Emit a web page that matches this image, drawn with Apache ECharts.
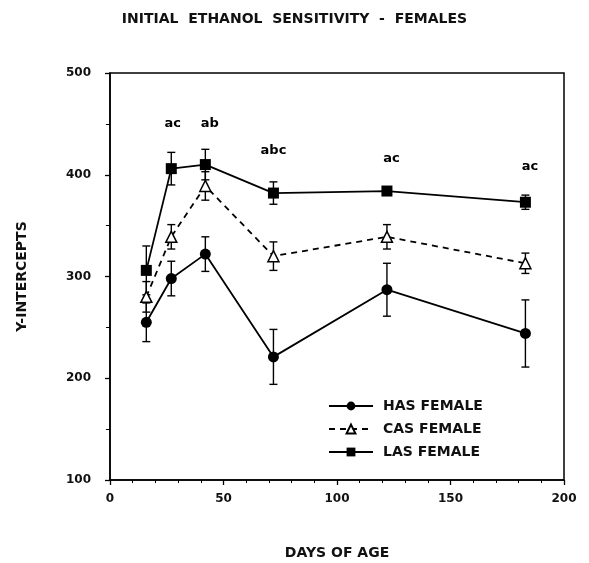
<!DOCTYPE html>
<html>
<head>
<meta charset="utf-8">
<script src="https://cdn.jsdelivr.net/npm/echarts@6/dist/echarts.min.js"></script>
<style>
  html, body { margin: 0; padding: 0; background: #fff; }
  #main { width: 589px; height: 563px; }
</style>
</head>
<body>
<div id="main"></div>
<script>
// days of age sampled
var days = [16, 27, 42, 72, 122, 183];

// Y-intercept means and error bar half-widths
var hasValues = [255, 298, 322, 221, 287, 244];
var hasErr = [19, 17, 17, 27, 26, 33];
var casValues = [280, 339, 389, 320, 339, 313];
var casErr = [15, 12, 14, 14, 12, 10];
var lasValues = [306, 406, 410, 382, 384, 373];
var lasErr = [24, 16, 15, 11, 3, 7];

// significance letters above the points
var sigDays = [27.6, 44, 72, 124, 185];
var sigValues = [450, 450, 424, 416, 408];
var sigLabels = ['ac', 'ab', 'abc', 'ac', 'ac'];

var xTicks = [0, 50, 100, 150, 200];
var yTicks = [100, 200, 300, 400, 500];

var bold = 'DejaVu Sans';

function pairs(vals) {
  return days.map(function (d, i) { return [d, vals[i]]; });
}
function errData(vals, err) {
  return days.map(function (d, i) { return [d, vals[i] - err[i], vals[i] + err[i]]; });
}
function renderErr(params, api) {
  var lo = api.coord([api.value(0), api.value(1)]);
  var hi = api.coord([api.value(0), api.value(2)]);
  var w = 4;
  var st = { stroke: '#000', lineWidth: 1.4 };
  return {
    type: 'group',
    children: [
      { type: 'line', shape: { x1: lo[0], y1: lo[1], x2: hi[0], y2: hi[1] }, style: st },
      { type: 'line', shape: { x1: lo[0] - w, y1: lo[1], x2: lo[0] + w, y2: lo[1] }, style: st },
      { type: 'line', shape: { x1: hi[0] - w, y1: hi[1], x2: hi[0] + w, y2: hi[1] }, style: st }
    ]
  };
}
function errSeries(vals, err) {
  return {
    type: 'custom',
    renderItem: renderErr,
    data: errData(vals, err),
    encode: { x: 0, y: [1, 2] },
    z: 1,
    silent: true
  };
}

var chart = echarts.init(document.getElementById('main'));
chart.setOption({
  animation: false,
  backgroundColor: '#fff',
  title: {
    text: 'INITIAL  ETHANOL  SENSITIVITY  -  FEMALES',
    left: 'center',
    top: 7,
    textStyle: { fontFamily: bold, fontWeight: 'bold', fontSize: 14, color: '#111' }
  },
  legend: {
    orient: 'vertical',
    left: 323,
    top: 394,
    itemWidth: 44,
    itemHeight: 11,
    itemGap: 9,
    selectedMode: false,
    data: ['HAS FEMALE', 'CAS FEMALE', 'LAS FEMALE'],
    textStyle: { fontFamily: bold, fontWeight: 'bold', fontSize: 14, color: '#111', padding: [0, 0, 0, 5] }
  },
  grid: {
    left: 110, right: 25, top: 73, bottom: 83,
    outerBoundsMode: 'none',
    show: true, borderColor: '#000', borderWidth: 1.5
  },
  xAxis: {
    type: 'value',
    min: xTicks[0], max: xTicks[xTicks.length - 1], interval: 50,
    name: 'DAYS OF AGE',
    nameLocation: 'middle',
    nameGap: 66,
    nameTextStyle: { fontFamily: bold, fontWeight: 'bold', fontSize: 14, color: '#111' },
    axisLine: { lineStyle: { color: '#000', width: 1.5 } },
    axisTick: { length: 5, lineStyle: { color: '#000', width: 1.3 } },
    minorTick: { show: true, splitNumber: 5, length: 3, lineStyle: { color: '#000', width: 1 } },
    axisLabel: { margin: 13, fontFamily: bold, fontWeight: 'bold', fontSize: 12, color: '#111' },
    splitLine: { show: false }
  },
  yAxis: {
    type: 'value',
    min: yTicks[0], max: yTicks[yTicks.length - 1], interval: 100,
    name: 'Y-INTERCEPTS',
    nameLocation: 'middle',
    nameRotate: 90,
    nameGap: 81,
    nameTextStyle: { fontFamily: bold, fontWeight: 'bold', fontSize: 14, color: '#111' },
    axisLine: { lineStyle: { color: '#000', width: 1.5 } },
    axisTick: { length: 5, lineStyle: { color: '#000', width: 1.3 } },
    minorTick: { show: true, splitNumber: 2, length: 4, lineStyle: { color: '#000', width: 1 } },
    axisLabel: { margin: 19, fontFamily: bold, fontWeight: 'bold', fontSize: 12, color: '#111' },
    splitLine: { show: false }
  },
  series: [
    errSeries(hasValues, hasErr),
    errSeries(casValues, casErr),
    errSeries(lasValues, lasErr),
    {
      name: 'HAS FEMALE',
      type: 'line',
      data: pairs(hasValues),
      symbol: 'circle',
      symbolSize: 11,
      z: 3,
      lineStyle: { color: '#000', width: 1.8 },
      itemStyle: { color: '#000' }
    },
    {
      name: 'CAS FEMALE',
      type: 'line',
      data: pairs(casValues),
      symbol: 'triangle',
      symbolSize: 11,
      showAllSymbol: true,
      z: 3,
      lineStyle: { color: '#000', width: 1.8, type: [6, 5] },
      itemStyle: { color: '#fff', borderColor: '#000', borderWidth: 1.5 }
    },
    {
      name: 'LAS FEMALE',
      type: 'line',
      data: pairs(lasValues),
      symbol: 'rect',
      symbolSize: 11,
      z: 3,
      lineStyle: { color: '#000', width: 1.8 },
      itemStyle: { color: '#000' }
    },
    {
      type: 'scatter',
      data: sigDays.map(function (d, i) { return { value: [d, sigValues[i]], name: sigLabels[i] }; }),
      symbolSize: 0,
      silent: true,
      itemStyle: { opacity: 1 },
      label: {
        show: true,
        position: 'inside',
        formatter: '{b}',
        fontFamily: bold, fontWeight: 'bold', fontSize: 13, color: '#000'
      }
    }
  ]
});
</script>
</body>
</html>
